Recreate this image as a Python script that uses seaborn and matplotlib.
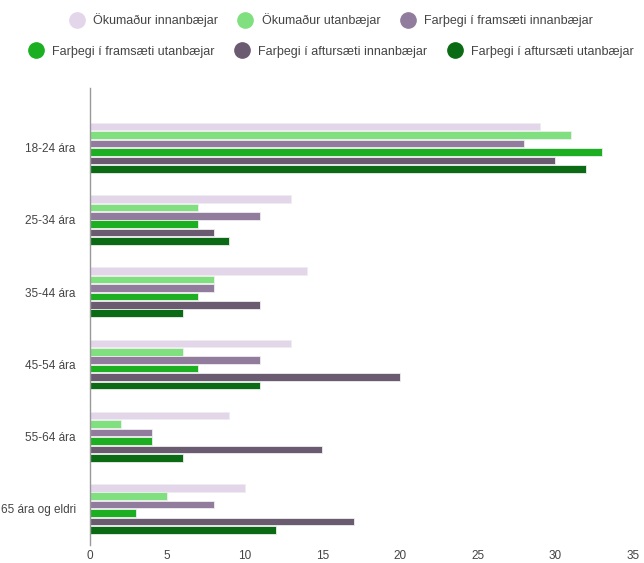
import matplotlib
matplotlib.use("Agg")
import matplotlib.pyplot as plt
from matplotlib.lines import Line2D
import seaborn as sns
import pandas as pd

# Aldurshópar og flokkar
aldur = ["18-24 ára", "25-34 ára", "35-44 ára", "45-54 ára", "55-64 ára", "65 ára og eldri"]
flokkar = [
    "Ökumaður innanbæjar",
    "Ökumaður utanbæjar",
    "Farþegi í framsæti innanbæjar",
    "Farþegi í framsæti utanbæjar",
    "Farþegi í aftursæti innanbæjar",
    "Farþegi í aftursæti utanbæjar",
]

okumadur_innan = [29, 13, 14, 13, 9, 10]
okumadur_utan = [31, 7, 8, 6, 2, 5]
framsaeti_innan = [28, 11, 8, 11, 4, 8]
framsaeti_utan = [33, 7, 7, 7, 4, 3]
aftursaeti_innan = [30, 8, 11, 20, 15, 17]
aftursaeti_utan = [32, 9, 6, 11, 6, 12]

litir = ["#e3d5ea", "#80e080", "#927c9e", "#1daf22", "#6b5b70", "#0b6b14"]

raddir = [okumadur_innan, okumadur_utan, framsaeti_innan,
          framsaeti_utan, aftursaeti_innan, aftursaeti_utan]
df = pd.DataFrame([
    {"aldur": a, "flokkur": f, "gildi": v}
    for f, vals in zip(flokkar, raddir)
    for a, v in zip(aldur, vals)
])

sns.set_style("white")
plt.rcParams["font.family"] = ["Liberation Sans", "DejaVu Sans"]

fig = plt.figure(figsize=(6.44, 5.63), dpi=100)
ax = fig.add_axes([0.139, 0.032, 0.844, 0.812])

sns.barplot(data=df, y="aldur", x="gildi", hue="flokkur", order=aldur,
            hue_order=flokkar, palette=litir, saturation=1, orient="h",
            width=0.7, gap=0.1, edgecolor="#eeeeee", linewidth=0.6,
            legend=False, ax=ax)

ax.set_xlim(0, 35)
ax.set_ylim(5.5, -0.83)
ax.set_xticks(range(0, 36, 5))
ax.set_xlabel("")
ax.set_ylabel("")
for s in ["top", "right", "bottom"]:
    ax.spines[s].set_visible(False)
ax.spines["left"].set_color("#999999")
ax.spines["left"].set_linewidth(1)
ax.tick_params(axis="both", length=0, labelsize=8.5, colors="#444444")
ax.tick_params(axis="y", pad=10)

# Tvær línur í skýringu, hvor um sig miðjuð
handles = [Line2D([], [], marker="o", linestyle="", markersize=11,
                  markerfacecolor=c, markeredgecolor=c) for c in litir]
kw = dict(frameon=False, ncol=3, fontsize=9, handletextpad=0.3,
          columnspacing=1.2, labelcolor="#444444")
fig.legend(handles[:3], flokkar[:3], loc="center", bbox_to_anchor=(0.51, 0.964), **kw)
fig.legend(handles[3:], flokkar[3:], loc="center", bbox_to_anchor=(0.51, 0.908), **kw)

fig.savefig("out.png", dpi=100)
